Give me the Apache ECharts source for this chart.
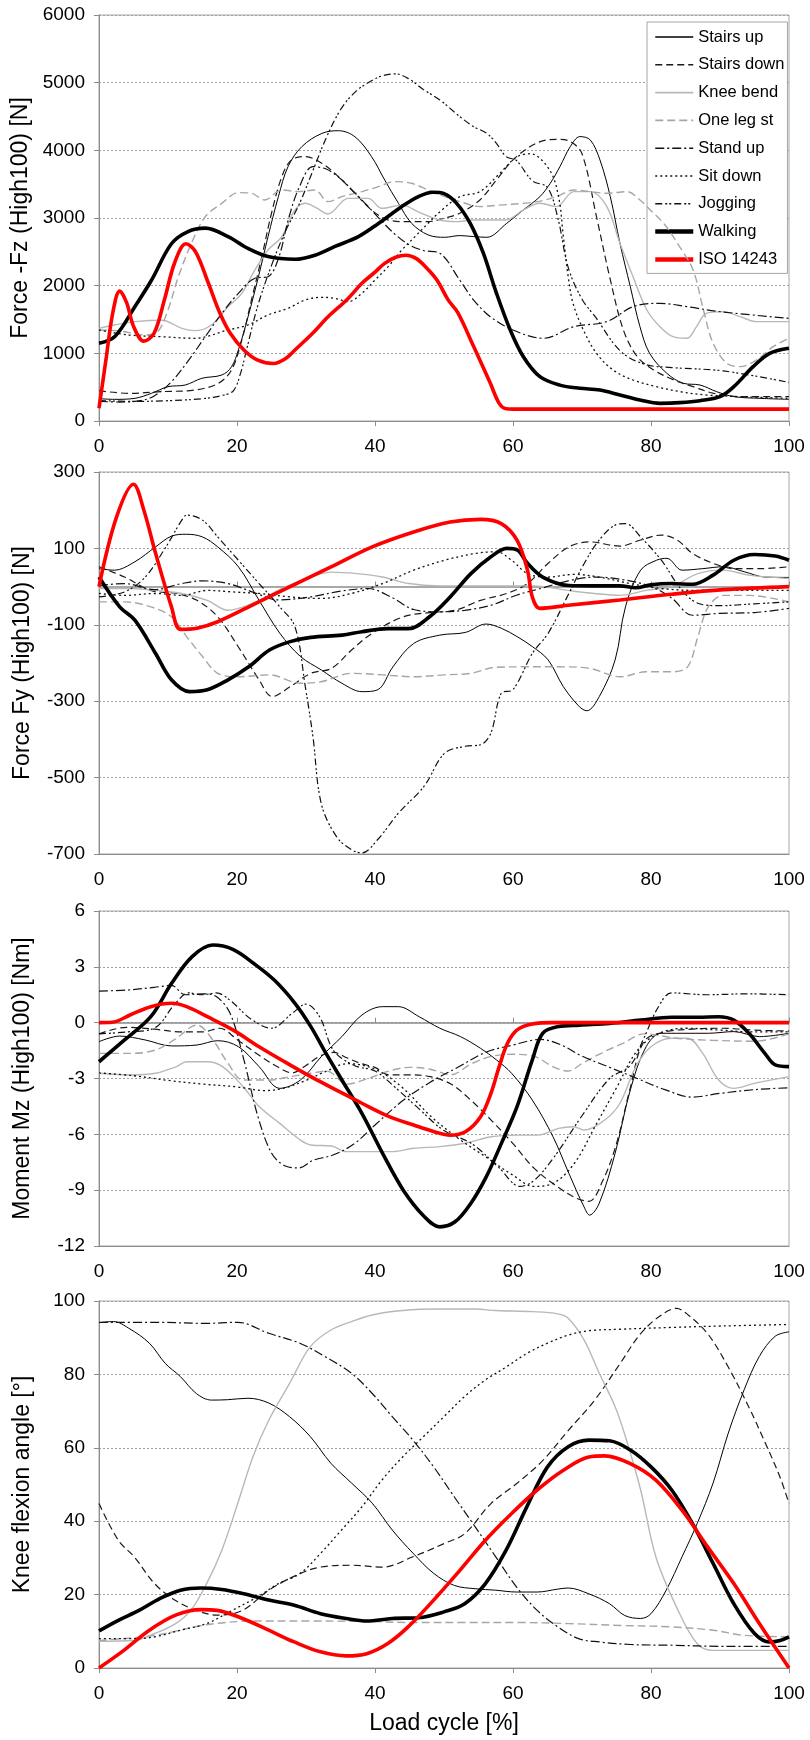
<!DOCTYPE html>
<html><head><meta charset="utf-8">
<script src="https://cdn.jsdelivr.net/npm/echarts/dist/echarts.min.js"></script>
<style>html,body{margin:0;padding:0;background:#fff}#c{width:810px;height:1740px}</style>
</head><body><div id="c"></div>
<script>
// ---------- DATA ([load cycle %, value]) ----------
const seriesNames = ['Stairs up','Stairs down','Knee bend','One leg st','Stand up','Sit down','Jogging','Walking','ISO 14243'];
const xTicks = [0,20,40,60,80,100];

// Panel 1: Force -Fz [N]
const fzStairsUp = [[0,330],[2.3,320],[5.2,335],[7.6,409],[10,507],[12.5,532],[14.9,631],[17.8,680],[19.2,800],[20.2,1050],[21.6,1540],[23.1,2130],[24.5,2725],[26,3316],[27.4,3760],[29.4,4055],[32.3,4250],[34.7,4290],[37.1,4200],[39.5,3907],[41.4,3562],[43.4,3217],[45.3,2922],[47.7,2750],[50.1,2715],[52.3,2740],[54.3,2725],[56.2,2715],[59.1,2922],[61.5,3119],[63.9,3316],[65.4,3513],[66.8,3759],[68.3,4055],[69.7,4203],[71.2,4153],[72.6,3858],[74.1,3316],[75.5,2626],[77,1986],[78.4,1394],[79.8,1000],[82.3,705],[84.7,557],[87.1,532],[89.5,434],[92,360],[95.8,335],[100,320]];
const fzStairsDown = [[0,448],[4.3,409],[9.1,434],[13.9,458],[17.3,557],[19.2,754],[20.7,1197],[22.1,1789],[23.6,2429],[25,3070],[26.5,3611],[27.9,3858],[29.9,3907],[32.3,3808],[34.7,3611],[37.1,3365],[39.5,3119],[41.9,2971],[44.8,2946],[47.7,2946],[50,2996],[52.3,3070],[55.2,3267],[57.6,3562],[60,3858],[62.5,4055],[64.4,4143],[66.3,4163],[68.3,4129],[70,3950],[72.1,3020],[74,2133],[76,1345],[78,951],[80.4,754],[83.3,606],[86.1,507],[89.1,409],[92.9,360],[100,360]];
const fzKneeBend = [[0,1370],[2.3,1419],[5.2,1468],[9.1,1490],[12,1370],[13.9,1335],[16.3,1419],[18.7,1690],[20.7,1887],[22.6,2232],[24.5,2528],[26.5,2725],[28.4,3119],[29.9,3217],[31.5,3150],[33.2,3060],[36.1,3290],[39,3290],[41,3143],[43.9,3190],[46.5,3080],[49.4,2971],[51.8,2946],[54.3,2971],[56.7,2971],[59,2971],[61.5,3119],[63.9,3217],[66.3,3168],[68.8,3390],[71.2,3390],[73.6,3168],[75.5,2626],[77.4,2133],[79.4,1641],[81.3,1394],[83.2,1246],[85.2,1222],[86.6,1394],[88,1591],[90.5,1616],[92.9,1542],[95.3,1468],[100,1468]];
const fzOneLeg = [[0,1345],[3,1330],[6.7,1271],[8.5,1320],[10,1641],[11.5,2133],[13.4,2626],[15.4,3020],[17.8,3217],[20.2,3375],[22.1,3365],[24,3267],[26.5,3414],[28.9,3390],[31.3,3414],[33.2,3242],[35.2,3316],[38.1,3390],[40.5,3464],[42.9,3538],[45.3,3513],[47.7,3414],[50.1,3316],[52.3,3242],[55.2,3168],[58,3190],[61.5,3217],[64,3250],[66.3,3316],[68.8,3414],[71.2,3390],[73.6,3365],[76.5,3390],[78.4,3267],[79.9,3119],[82,2900],[84,2600],[86.1,2232],[87.6,1641],[89,1148],[91,852],[92.9,803],[95.3,902],[97.7,1099],[100,1222]];
const fzStandUp = [[0,290],[3,280],[6,300],[8,370],[10.5,580],[13,900],[15.4,1246],[17.8,1590],[20.2,1887],[22.6,2110],[24.5,2133],[26,2400],[27.5,3000],[29,3450],[31,3760],[33,3720],[35,3580],[37,3380],[39,3170],[41,2950],[43,2750],[45,2600],[47,2520],[49.4,2478],[52.3,2080],[54.3,1788],[56.7,1542],[60,1345],[64.4,1222],[68.8,1394],[73.6,1468],[77.4,1690],[81.3,1739],[85.2,1690],[90,1616],[100,1517]];
const fzSitDown = [[0,1345],[4.3,1271],[9.1,1246],[13.9,1222],[18.7,1345],[21.6,1419],[24.5,1567],[27.4,1665],[29.9,1789],[32.3,1828],[34.2,1813],[36.1,1764],[38.1,1887],[40,2084],[41.9,2281],[43.9,2528],[45.8,2725],[47.7,2922],[49.7,3119],[52.3,3316],[55.2,3390],[58,3650],[60.5,3900],[62.5,3950],[65.3,3710],[66.6,3316],[67.3,2725],[68,2133],[68.7,1739],[70.2,1345],[72.1,1000],[74.5,754],[77.4,606],[80.8,507],[84.2,434],[88,384],[92.9,360],[100,335]];
const fzJogging = [[0,300],[5,290],[10,300],[15,330],[18,380],[19.5,450],[20.5,700],[21.5,1100],[23,1700],[25,2300],[27,2800],[29,3200],[31,3700],[33,4200],[35,4600],[37,4850],[39,5000],[41,5100],[43,5130],[45,5050],[47,4900],[49.4,4745],[52.3,4498],[54.3,4350],[56.2,4252],[57.6,4104],[59,3907],[60.5,3850],[62.8,3550],[65,3450],[66.5,3000],[68,2270],[70,1800],[72,1530],[75.5,1040],[79,840],[83,790],[90.5,740],[100,570]];
const fzWalking = [[0,1150],[2.3,1250],[5.2,1690],[7.6,2080],[10.5,2620],[12.9,2800],[15.4,2850],[18.7,2725],[21.6,2550],[24.5,2430],[28.4,2390],[31.3,2450],[34.2,2580],[37.6,2725],[40.5,2920],[43.9,3170],[46.3,3316],[48.4,3380],[50,3360],[51.8,3220],[53.8,2920],[55.7,2480],[57.6,1890],[59.6,1345],[61.5,950],[63.9,655],[66.8,530],[69.7,483],[72.6,458],[75.5,384],[78.4,310],[81.3,261],[84.2,271],[87.1,300],[90,360],[92,507],[94.8,803],[97.2,1000],[100,1074]];
const fzIso = [[0,190],[1,900],[2,1600],[3,1920],[4,1750],[5,1400],[6.5,1180],[8,1300],[9.5,1800],[11,2350],[12.6,2620],[14,2500],[15.8,2050],[17.5,1600],[19,1300],[21,1050],[23,900],[25.3,850],[27,920],[28.4,1050],[31,1300],[33.2,1540],[36,1800],[38.1,2035],[40,2200],[41.4,2330],[43,2420],[44.5,2450],[46,2400],[47.5,2260],[49,2080],[50.6,1790],[52,1600],[54.3,1100],[56.7,560],[58,260],[59,180],[60,175],[100,175]];

// Panel 2: Force Fy [N]
const fyStairsUp = [[0,47],[2.2,43],[5.2,65],[8.2,104],[10.5,132],[12.7,137],[15,130],[17.2,104],[20.2,52],[23.2,-36],[26.2,-122],[29.2,-183],[32.2,-218],[35.2,-253],[38.1,-275],[40.4,-270],[42.6,-210],[45.6,-149],[49.4,-127],[53.1,-120],[56.1,-98],[58.3,-109],[60.6,-131],[62.8,-157],[65.1,-192],[67.3,-262],[69.6,-314],[70.7,-325],[72.5,-288],[74.8,-192],[76.3,-53],[78.5,43],[80.8,69],[82.3,74],[84.5,43],[87.5,47],[90.5,52],[93.5,39],[96.5,25],[100,24]];
const fyStairsDown = [[0,52],[3.7,25],[7.5,-10],[11.2,-18],[14.2,-36],[17.2,-79],[20.2,-158],[23.2,-244],[25.1,-288],[27.7,-262],[30.7,-227],[33.7,-214],[36.6,-166],[39.6,-122],[44.1,-79],[47.9,-68],[51.6,-62],[55.3,-36],[59.1,-18],[62.1,8],[65.1,61],[68.1,104],[71.1,117],[75.5,106],[78.5,122],[81.5,135],[83.8,122],[86,87],[89,61],[92,47],[95.7,47],[100,52]];
const fyKneeBend = [[0,-5],[4.5,-5],[8.2,-10],[12,-18],[15.7,-36],[18.7,-62],[20.9,-53],[23.2,-36],[27,-1],[30.7,25],[33.7,38],[37.4,34],[41.1,25],[44.9,8],[49.4,2],[56.8,2],[63,2],[68,-10],[71.8,-18],[75.5,-23],[79.3,-10],[83,0],[86.8,34],[90.5,43],[94.2,30],[100,21]];
const fyOneLeg = [[0,-40],[3.7,-40],[7.5,-53],[10.5,-79],[12.7,-131],[15,-183],[17.2,-227],[20.2,-236],[24.7,-231],[29.2,-253],[32.2,-249],[36.6,-227],[41.1,-231],[45.6,-236],[50.1,-231],[53.9,-227],[57.6,-211],[62.1,-210],[66.6,-210],[71.1,-214],[75.5,-236],[79.3,-223],[83,-223],[85.3,-210],[86.8,-131],[88.3,-53],[90.5,-23],[94.2,-23],[100,-40]];
const fyStandUp = [[0,3],[3.7,8],[8,-8],[12,8],[15,15],[18.7,8],[22.4,-15],[26,-35],[30.7,-27],[35,-12],[39,-5],[42.6,-30],[45.6,-60],[49.4,-66],[53,-62],[56.8,-49],[60.6,-22],[64,-5],[68,15],[72,25],[76,18],[80,0],[83,-30],[86,-75],[90,-70],[95,-68],[100,-57]];
const fySitDown = [[0,-18],[3.7,-23],[8.2,-18],[12,-23],[15.7,-10],[19.4,-14],[23.2,-18],[27.7,-27],[32.2,-31],[36.6,-18],[41.1,8],[45.6,43],[50.1,69],[54.6,87],[57.6,91],[59.8,69],[62.1,34],[65.1,25],[68.8,32],[72.5,25],[77,8],[81.5,-5],[86.8,-10],[94.2,-10],[100,-10]];
const fyJogging = [[0,-27],[3.7,-14],[6.7,25],[9.7,104],[12,174],[12.7,187],[15,174],[17.2,130],[20.2,69],[23.2,8],[26.2,-53],[28.4,-105],[29.9,-262],[31,-392],[32.2,-567],[34.4,-654],[36.6,-689],[38.1,-697],[40.4,-662],[43.4,-593],[47.1,-523],[50.1,-436],[53.1,-418],[55.3,-414],[56.8,-383],[58.3,-279],[60,-270],[62.8,-175],[65.1,-122],[68.1,-18],[70.3,60],[72.5,122],[74.8,161],[76.3,165],[78.5,130],[81.5,69],[84.5,-10],[87,-45],[90,-50],[95,-45],[100,-40]];
const fyWalking = [[0,25],[3,-53],[5.2,-88],[8.2,-175],[10.5,-244],[13.1,-275],[15.7,-270],[18.7,-244],[21.7,-210],[24.7,-166],[27.7,-144],[30.7,-133],[35.2,-127],[38.1,-118],[41.9,-110],[44.9,-110],[47.9,-79],[50.9,-27],[53.9,34],[56.8,78],[59.1,100],[60.6,96],[62.1,61],[64.3,25],[68.1,3],[71.8,2],[75.5,2],[77.8,-3],[80,5],[83,8],[86,6],[89,30],[92,69],[95,84],[98,80],[100,69]];
const fyIso = [[0,0],[2.5,180],[5,268],[6.5,200],[8.2,87],[10.5,-53],[11.8,-112],[14.2,-109],[17.2,-92],[21.7,-53],[27.7,0],[33.7,52],[39.6,104],[45.6,143],[50.9,169],[55.3,176],[58.3,165],[60.6,121],[62.1,43],[62.8,-27],[63.9,-57],[68,-49],[75.5,-35],[83,-20],[90.5,-8],[100,0]];

// Panel 3: Moment Mz [Nm]
const mzStairsUp = [[0,-1.02],[3,-0.72],[6.7,-0.93],[10.5,-1.25],[14.2,-1.2],[17.2,-0.97],[20.2,-1.29],[23.2,-2.36],[26.2,-3.53],[29.2,-3.08],[32.2,-1.83],[35.2,-0.75],[38.1,0.41],[41.1,0.86],[43.4,0.86],[46.4,0.32],[49.4,-0.3],[52.4,-0.75],[55.3,-1.38],[57.6,-2.0],[59.8,-2.72],[62.8,-4.16],[65.8,-6.13],[68.1,-8.1],[70.3,-9.9],[71.1,-10.34],[72.5,-9.7],[74.8,-7.02],[77,-3.62],[79.3,-1.29],[81.5,-0.57],[84.5,-0.57],[88.3,-0.57],[92,-0.48],[95.7,-0.75],[100,-0.57]];
const mzStairsDown = [[0,-0.6],[4,-0.25],[8,-0.35],[12,-0.5],[15,-0.5],[17.5,-0.3],[20,-0.9],[23,-1.7],[26,-2.4],[28,-2.7],[30,-2.3],[32,-1.8],[34,-1.6],[36,-1.9],[38,-2.2],[40,-2.4],[42,-2.8],[45,-2.8],[48,-2.9],[51,-3.3],[54,-4.2],[57,-5.3],[60,-6.5],[63,-7.8],[66,-8.7],[69,-9.4],[71,-9.6],[73,-8.5],[75,-6.5],[77,-3.5],[79,-1],[82,-0.5],[86,-0.35],[90,-0.3],[95,-0.4],[100,-0.45]];
const mzKneeBend = [[0,-2.72],[4.5,-2.81],[8.2,-2.72],[11.2,-2.36],[12.7,-2.1],[15.7,-2.1],[17.9,-2.36],[20.9,-3.44],[23.2,-4.51],[26.2,-5.41],[29.2,-6.31],[30.7,-6.57],[33.7,-6.63],[35.9,-6.93],[39.6,-6.93],[42.6,-6.93],[45.6,-6.75],[49.4,-6.66],[53.1,-6.48],[56.8,-6.13],[60.6,-6.04],[63.6,-6.04],[66.6,-5.68],[68.8,-5.59],[70.3,-5.77],[73.3,-5.23],[75.5,-4.33],[77.8,-2.36],[80,-1.29],[83,-0.84],[85.3,-0.84],[87.5,-1.65],[89.8,-3.08],[92,-3.53],[95,-3.26],[100,-2.9]];
const mzOneLeg = [[0,-1.65],[4.5,-1.65],[8.2,-1.47],[11,-0.9],[14.2,-0.13],[16.5,-0.93],[18.7,-2.18],[20.9,-3.08],[24.7,-3.08],[27.7,-2.9],[30.7,-2.72],[33,-2.6],[36,-3.3],[39,-3.0],[42,-2.6],[45,-2.4],[48,-2.5],[51,-2.8],[54,-2.2],[57,-1.8],[60,-1.7],[63,-1.8],[66,-2.4],[68,-2.6],[70,-2.2],[73,-1.6],[76,-1.1],[79,-0.6],[84,-0.85],[89,-0.95],[95,-1.0],[100,-0.6]];
const mzStandUp = [[0,1.7],[4,1.75],[8,1.9],[10.5,2.0],[12.5,1.5],[15,1.55],[17,1.4],[19,0.5],[21,-2],[23,-5],[25,-7],[27,-7.7],[29,-7.8],[31,-7.4],[34,-7.1],[37,-6.5],[40,-5.5],[44,-4.2],[48,-3.2],[52,-2.4],[56,-1.6],[60,-1.2],[64,-0.9],[67,-1.2],[70,-1.8],[74,-2.4],[78,-3],[82,-3.6],[86,-4],[90,-3.8],[95,-3.6],[100,-3.5]];
const mzSitDown = [[0,-2.7],[5,-2.85],[10,-3.1],[15,-3.3],[20,-3.45],[24,-3.65],[27,-3.5],[30,-3.1],[33,-2.6],[36,-2.2],[40,-2.5],[44,-3.5],[48,-5],[52,-6.2],[56,-7.2],[60,-8.2],[63,-8.8],[66,-8.6],[69,-7.5],[72,-5.5],[75,-3.5],[78,-1.5],[81,-0.6],[85,-0.3],[90,-0.4],[95,-0.5],[100,-0.5]];
const mzJogging = [[0,-0.6],[4,-0.5],[8,-0.3],[11,1.0],[13,1.6],[15,1.5],[17,1.6],[19,1.2],[22,0.2],[25,-0.3],[28,0.5],[30,1.0],[32,0.3],[34,-1.5],[37,-2.3],[40,-2.6],[43,-3.5],[46,-4.5],[50,-5.8],[54,-6.5],[58,-7.8],[61,-8.8],[63,-8.5],[66,-7.2],[70,-5],[74,-3],[77,-2.3],[79,-0.8],[81,0.8],[83,1.6],[88,1.5],[94,1.55],[100,1.5]];
const mzWalking = [[0,-2.1],[3.7,-0.93],[7.5,0.32],[10.5,2.1],[13.5,3.55],[16.5,4.17],[19.4,3.94],[22.4,3.19],[25.4,2.29],[28.4,1.04],[30.7,-0.21],[32.9,-1.65],[35.2,-3.08],[38.1,-4.87],[41.1,-7.02],[44.1,-9],[47.1,-10.4],[49.4,-10.97],[51.6,-10.7],[53.9,-9.7],[56.1,-8.3],[58.3,-6.5],[60.6,-4.5],[62.8,-2.0],[64.3,-0.57],[66.6,-0.21],[69.6,-0.13],[74,-0.04],[78.5,0.14],[83,0.29],[86.8,0.29],[89.8,0.32],[92,0.14],[94.2,-0.57],[96.5,-1.65],[98,-2.27],[100,-2.36]];
const mzIso = [[0,0],[1.9,0.02],[4.5,0.41],[7.5,0.86],[10.5,1.04],[12.7,0.86],[15.7,0.32],[19.4,-0.39],[23.2,-1.29],[26.9,-2.1],[30.7,-2.9],[34.4,-3.62],[38.1,-4.33],[41.9,-5.02],[45.6,-5.5],[48.6,-5.86],[50.9,-6.04],[53.1,-5.86],[55.3,-5.05],[56.8,-3.8],[58,-2.36],[59.2,-1.11],[60.6,-0.39],[62.8,-0.07],[65.8,0],[100,0]];

// Panel 4: Knee flexion angle [deg]
const kaStairsUp = [[0,94.1],[2.1,94.4],[4.3,92.6],[7.3,88.5],[9.6,83],[11.8,79.4],[14.1,74.8],[16.3,73],[18.6,73.1],[21.6,73.5],[24.6,72.2],[27.6,68.5],[30.6,63.1],[33.6,55.8],[36.6,50.4],[39.6,44.9],[42.5,37.6],[45.5,31.3],[48.5,25.8],[51.5,22.5],[54.5,21.6],[57.5,21.2],[60.5,20.7],[63.5,20.7],[66.5,21.5],[68,21.8],[71,20.2],[74,17.5],[76.2,14.3],[78.5,13.5],[80,14.8],[82.2,21.2],[84.5,30.3],[86.7,39.4],[89,50.4],[91.2,64],[93.5,75.8],[95.7,84.9],[98,90.4],[100,91.6]];
const kaStairsDown = [[0,44.8],[2.8,34.8],[5.1,30.3],[8.1,22.9],[11.1,18.4],[14.1,15.7],[17.1,14.4],[20.8,15.7],[24.6,21.2],[29.1,25.7],[32.1,27.5],[36.6,28],[41.1,27.5],[45.5,30.3],[50,33.9],[53,36.6],[56.8,44.8],[60.5,50.2],[64.3,56.5],[68,64.7],[71.8,72.9],[75.5,82.9],[78.5,91.1],[81.5,96.2],[83.7,98],[85.2,96.5],[88.2,91.1],[91.2,82],[94.2,71],[96.4,62],[98.7,52],[100,44.8]];
const kaKneeBend = [[0,7.3],[5.1,7.5],[8.1,9.4],[11.1,12.1],[13.3,15.7],[15.6,23],[17.8,32.1],[20.1,44.8],[22.3,57.5],[24.6,67.5],[27.6,77.5],[30.6,87.5],[33.6,92.1],[36.6,94.4],[39.6,96.2],[44,97.4],[49.3,97.8],[54.5,97.8],[57.5,97.4],[62.8,97.1],[66.5,96.5],[68,95.3],[70.3,89.4],[72.5,80.3],[74.8,71.2],[76.3,63],[78.5,48.5],[80.7,30.3],[83.7,16.6],[86.7,6.6],[89,4.8],[94.2,4.8],[100,4.8]];
const kaOneLeg = [[0,7.5],[8.1,8.9],[15.6,11.8],[23,12.8],[30.6,12.8],[38,12.7],[45.5,12.4],[53,12.4],[60.5,12.4],[68,12.1],[75.5,11.6],[83,11.2],[89,10.3],[93.5,8.9],[100,8.5]];
const kaStandUp = [[0,94.2],[8.1,94.2],[15.6,93.9],[20.1,94.2],[24.6,91.2],[29.1,88.5],[32.8,84.8],[36.6,80.3],[39.6,74.8],[42.5,68.5],[45.5,62.1],[48.5,54.8],[51.5,46.6],[54.5,38.5],[57.5,30.3],[60.5,22.1],[63.5,15.7],[66.5,11.2],[69.5,8],[72.5,7.1],[77,6.4],[83,6.2],[90.5,5.9],[100,5.9]];
const kaSitDown = [[0,8],[5.1,8],[8.1,8.5],[11.8,10.3],[15.6,12.1],[19.3,15.7],[23,19.4],[26,23],[29.1,25.7],[32.1,31.2],[35.1,37.5],[38.1,43.9],[41,51.2],[44,57.5],[47,63],[50,68.5],[53,74],[56,78.5],[59,82],[62,85.7],[65,88.5],[68,90.7],[71,91.9],[75.5,92.3],[83,92.8],[90.5,93.2],[100,93.6]];
const kaJogging = [];
const kaWalking = [[0,10.1],[2.8,13],[5.8,15.7],[8.8,18.9],[11.8,21.2],[14.8,21.8],[17.8,21.4],[20.8,20.3],[24.6,18.5],[28.3,17.1],[32.1,14.8],[35.8,13.5],[38.8,12.8],[42.5,13.5],[46.3,13.7],[50,15.3],[53,17.5],[56,23],[59,32.1],[62,43.9],[65,54.8],[68,60.3],[71,62.1],[74,61.9],[77,59.4],[80,54.8],[83,48.5],[86,39.4],[89,28.5],[92,17.5],[95,9.4],[97.2,7.1],[98.7,7.5],[100,8.5]];
const kaIso = [[0,0],[3.6,4.8],[7.3,10.3],[11.1,14.4],[14.8,15.9],[17.1,15.7],[20.8,13.5],[24.6,10.3],[28.3,7.1],[32.1,4.4],[35.8,3.3],[38.8,3.9],[41.8,6.6],[44.8,11.2],[48.5,18.5],[52.3,26.6],[56,34.8],[59.8,42.1],[63.5,48.5],[67.3,53.9],[71,57.5],[73.3,57.8],[77,55.7],[80.7,51.2],[84.5,43],[88.2,33],[92,23],[95.7,12.1],[100,0]];

const panelData = [
  [fzStairsUp, fzStairsDown, fzKneeBend, fzOneLeg, fzStandUp, fzSitDown, fzJogging, fzWalking, fzIso],
  [fyStairsUp, fyStairsDown, fyKneeBend, fyOneLeg, fyStandUp, fySitDown, fyJogging, fyWalking, fyIso],
  [mzStairsUp, mzStairsDown, mzKneeBend, mzOneLeg, mzStandUp, mzSitDown, mzJogging, mzWalking, mzIso],
  [kaStairsUp, kaStairsDown, kaKneeBend, kaOneLeg, kaStandUp, kaSitDown, kaJogging, kaWalking, kaIso]
];
const yNames = ['Force -Fz (High100) [N]', 'Force Fy (High100) [N]', 'Moment Mz (High100) [Nm]', 'Knee flexion angle [°]'];
const yRanges = [[0, 6000, 1000], [-700, 300, 200], [-12, 6, 3], [0, 100, 20]];
const xName = 'Load cycle [%]';

// ---------- STYLE / LAYOUT ----------
const FONT = 'Liberation Sans, Arial, sans-serif';
const lineStyles = [
  {color:'#000000', width:1, type:'solid'},
  {color:'#1a1a1a', width:1.2, type:[7,4]},
  {color:'#b8b8b8', width:1.4, type:'solid'},
  {color:'#a6a6a6', width:1.4, type:[8,4]},
  {color:'#111111', width:1.2, type:[9,3,2,3]},
  {color:'#111111', width:1.3, type:[2,3]},
  {color:'#111111', width:1.2, type:[7,3,2,2,2,3]},
  {color:'#000000', width:3.6, type:'solid'},
  {color:'#ff0000', width:3.6, type:'solid'}
];
const legendLineWidths = [1.4, 1.6, 1.8, 1.6, 1.6, 1.6, 1.6, 4.5, 4.5];
const layout = [{top:15,height:406},{top:472,height:382},{top:911,height:335},{top:1301,height:367}];
const LEFT = 99, WIDTH = 690;

const grid = [], xAxis = [], yAxis = [], series = [];
layout.forEach((g, i) => {
  grid.push({left:LEFT, top:g.top, width:WIDTH, height:g.height, show:true, borderColor:'#a6a6a6', borderWidth:1, containLabel:false});
  xAxis.push({
    type:'value', gridIndex:i, min:xTicks[0], max:xTicks[xTicks.length-1], interval:xTicks[1]-xTicks[0],
    axisLine:{onZero:false, lineStyle:{color:'#8c8c8c', width:1}},
    axisTick:{show:(i===0||i===3), length:5, lineStyle:{color:'#8c8c8c'}},
    axisLabel:{fontSize:19, color:'#000', margin:16, fontFamily:FONT, formatter:v => String(v)},
    splitLine:{show:false},
    name: i===3 ? xName : '', nameLocation:'middle', nameGap:44,
    nameTextStyle:{fontSize:23, color:'#000', fontFamily:FONT}
  });
  const r = yRanges[i];
  yAxis.push({
    type:'value', gridIndex:i, min:r[0], max:r[1], interval:r[2],
    axisLine:{show:true, onZero:false, lineStyle:{color:'#8c8c8c', width:1}},
    axisTick:{show:true, length:5, lineStyle:{color:'#8c8c8c'}},
    axisLabel:{fontSize:19, color:'#000', margin:14, fontFamily:FONT, formatter:v => String(v)},
    splitLine:{show:true, lineStyle:{type:[2,2], color:'#a0a0a0', width:1}},
    name:yNames[i], nameLocation:'middle', nameGap:65, nameRotate:90,
    nameTextStyle:{fontSize:23, color:'#000', fontFamily:FONT}
  });
});
// zero lines for panels 2 and 3
[1,2].forEach(i => {
  xAxis.push({
    type:'value', gridIndex:i, min:0, max:100, interval:20,
    axisLine:{onZero:true, lineStyle:{color:'#8c8c8c', width:1.5}},
    axisTick:{show:true, length:5, lineStyle:{color:'#8c8c8c'}},
    axisLabel:{show:false}, splitLine:{show:false}
  });
});

panelData.forEach((arr, p) => {
  arr.forEach((d, k) => {
    series.push({
      type:'line', name:seriesNames[k], xAxisIndex:p, yAxisIndex:p,
      data:d, symbol:'none', smooth:0.35, silent:true,
      lineStyle:Object.assign({}, lineStyles[k]),
      itemStyle:{color:lineStyles[k].color},
      z: 2 + k
    });
  });
});

const legendData = seriesNames.map((n, k) => ({
  name:n,
  lineStyle:{color:lineStyles[k].color, width:legendLineWidths[k], type:lineStyles[k].type, opacity:1}
}));

const chart = echarts.init(document.getElementById('c'), null, {renderer:'canvas'});
chart.setOption({
  animation:false,
  backgroundColor:'#ffffff',
  textStyle:{fontFamily:FONT},
  grid, xAxis, yAxis, series,
  legend:{
    data:legendData, orient:'vertical', left:647, top:22,
    itemWidth:38, itemHeight:14, itemGap:9.8, itemTextGap:4,
    padding:[6,3,5,6], backgroundColor:'#ffffff', borderColor:'#a6a6a6', borderWidth:1,
    itemStyle:{color:'rgba(0,0,0,0)', borderColor:'rgba(0,0,0,0)', borderWidth:0, opacity:0},
    textStyle:{fontSize:16.5, lineHeight:18, color:'#000', fontFamily:FONT},
    selectedMode:false
  }
});
</script></body></html>
